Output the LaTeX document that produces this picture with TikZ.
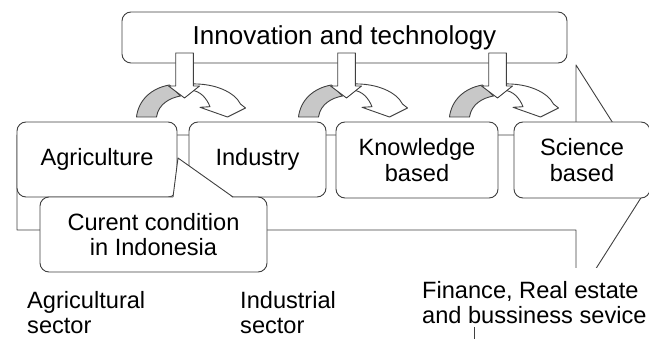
\documentclass[tikz,border=0pt]{standalone}
\usepackage{fontspec}
\setmainfont{Liberation Sans}
\usetikzlibrary{positioning}
\definecolor{linegray}{HTML}{404040}
\definecolor{arcgray}{HTML}{C8C8C8}

\begin{document}
\begin{tikzpicture}[x=1pt,y=-1pt,
    box/.style={draw=linegray, line width=0.9pt, fill=white, rounded corners=9pt,
      align=center, inner sep=0pt, font=\fontsize{23.6}{25.5}\selectfont},
    blockline/.style={draw=linegray, line width=0.9pt, fill=white, line join=round},
    sectortext/.style={align=left, inner sep=0pt, anchor=north west,
      font=\fontsize{23.6}{24.5}\selectfont}]

\useasboundingbox (0,0) rectangle (649,339);

% big arrow behind the stages
\draw[blockline] (17,135) -- (576,135) -- (576,65) -- (650.7,182.5) -- (576,300) -- (576,230) -- (17,230) -- cycle;

\node[box, minimum width=445pt, minimum height=51pt, font=\fontsize{26}{28}\selectfont] (innov) at (344.5,37.5) {Innovation and technology};

% curved arrows and push arrows
\foreach \xo in {184.5,346.5,497.5} {
\begin{scope}[xshift=\xo pt]
    \filldraw[blockline, fill=arcgray] (-48,117) .. controls (-46,100) and (-33,88) .. (-15,85) -- (-4,96) .. controls (-15,98) and (-26,104) .. (-28,117) -- cycle;
    \filldraw[blockline] (6,84) .. controls (30,83) and (50,92) .. (56,104) -- (61,108) -- (43,117) -- (15.5,107.3) -- (25.5,106.7) .. controls (22,98) and (16,91) .. (6,90) -- cycle;
    \filldraw[blockline] (-8.8,53) -- (8.8,53) -- (8.8,86) -- (15,86) -- (0,98) -- (-16,86) -- (-8.8,86) -- cycle;
\end{scope}
}

% stages
\node[box, minimum width=160pt, minimum height=75pt] (agri) at (97,159.5) {Agriculture};
\node[box, minimum width=137pt, minimum height=75pt] (indus) at (257.5,159.5) {Industry};
\node[box, minimum width=162pt, minimum height=76pt] (know) at (417,160) {Knowledge\\based};
\node[box, minimum width=136pt, minimum height=76pt] (sci) at (582,160) {Science\\based};

% callout
\node[box, minimum width=227pt, minimum height=75pt] (cond) at (153.5,234.5) {Curent condition\\in Indonesia};
\coordinate (tip) at (178,158);
\fill[white] (173,198) -- (tip) -- (233,198) -- cycle;
\draw[linegray, line width=0.9pt, line join=round] (173,197) -- (tip) -- (233,197);

% sectors
\node[sectortext] (agrisec) at (27,291.5) {Agricultural\\sector};
\node[sectortext] (indussec) at (240,291.5) {Industrial\\sector};
\node[sectortext, fill=white, inner xsep=6pt, inner ysep=13.4pt] (finsec) at (416,268) {Finance, Real estate\\and bussiness sevice};

\coordinate (mk) at (474,327);
\draw[linegray, line width=0.9pt] (mk) -- ++(0,12);

\end{tikzpicture}
\end{document}
